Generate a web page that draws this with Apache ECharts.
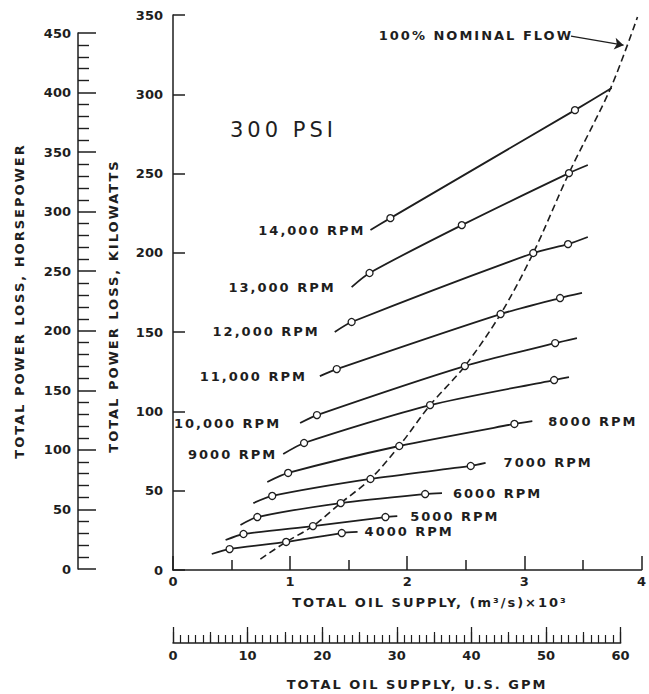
<!DOCTYPE html>
<html>
<head>
<meta charset="utf-8">
<script src="https://cdn.jsdelivr.net/npm/echarts@6/dist/echarts.min.js"></script>
<style>
html,body{margin:0;padding:0;background:#fff}
#main{width:649px;height:694px}
</style>
</head>
<body>
<div id="main"></div>
<script>
// ---------- DATA ----------
const rpmNames = ['14,000 RPM','13,000 RPM','12,000 RPM','11,000 RPM','10,000 RPM','9000 RPM',
                  '8000 RPM','7000 RPM','6000 RPM','5000 RPM','4000 RPM'];
// [oil supply (m3/s)x10^3, power loss kW]
const rpm14000 = [[1.686,214.4],[1.856,221.9],[3.432,290.0],[3.746,303.9]];
const rpm13000 = [[1.525,178.4],[1.678,187.3],[2.466,217.5],[3.381,250.3],[3.542,255.4]];
const rpm12000 = [[1.381,150.1],[1.525,156.4],[3.076,199.9],[3.373,205.5],[3.542,210.0]];
const rpm11000 = [[1.254,122.3],[1.398,126.7],[2.797,161.4],[3.305,171.5],[3.492,174.7]];
const rpm10000 = [[1.085,92.7],[1.229,97.7],[2.492,128.6],[3.263,143.1],[3.449,146.3]];
const rpm9000  = [[0.941,73.1],[1.119,80.1],[2.195,104.0],[3.254,119.8],[3.381,121.7]];
const rpm8000  = [[0.805,55.5],[0.983,61.2],[1.932,78.2],[2.915,92.1],[3.068,93.9]];
const rpm7000  = [[0.686,42.2],[0.847,46.7],[1.686,57.4],[2.542,65.6],[2.669,67.5]];
const rpm6000  = [[0.576,28.4],[0.720,33.4],[1.432,42.2],[2.153,47.9],[2.297,48.5]];
const rpm5000  = [[0.449,18.9],[0.602,22.7],[1.195,27.7],[1.814,33.4],[1.915,34.0]];
const rpm4000  = [[0.331,10.1],[0.483,13.2],[0.966,17.7],[1.441,23.3],[1.576,24.0]];
const nominalFlow = [[0.746,6.9],[0.966,17.7],[1.195,27.7],[1.432,42.2],[1.686,57.4],[1.932,78.2],
                     [2.195,104.0],[2.492,128.6],[2.797,161.4],[3.076,199.9],[3.381,250.3],
                     [3.737,303.9],[3.966,348.7]];
const arrowFrom = [3.398,336.7];
const arrowTo   = [3.847,331.0];
const kwRange  = [0, 350, 50];
const hpRange  = [0, 450, 50];
const flowRange = [0, 4, 1];
const gpmRange = [0, 60, 10];
const titleHP = 'TOTAL POWER LOSS, HORSEPOWER';
const titleKW = 'TOTAL POWER LOSS, KILOWATTS';
const titleFlow = 'TOTAL OIL SUPPLY, (m\u00b3/s)\u00d710\u00b3';
const titleGPM = 'TOTAL OIL SUPPLY, U.S. GPM';
const notePSI = '300 PSI';
const noteFlow = '100% NOMINAL FLOW';

// ---------- STYLE ----------
const curves = [rpm14000,rpm13000,rpm12000,rpm11000,rpm10000,rpm9000,rpm8000,rpm7000,rpm6000,rpm5000,rpm4000];
const labelSide = ['left','left','left','left','left','left','right','right','right','right','right'];
const labelGap = [5,16,15,13,19,6,16,18,11,13,7];
const INK = '#1e1e1e';
const FF = '"DejaVu Sans", sans-serif';
const axisLab = {color: INK, fontFamily: FF, fontWeight: 'bold', fontSize: 13};

const series = [];
series.push({
  type: 'line', xAxisIndex: 0, yAxisIndex: 0, data: nominalFlow, smooth: 0.3,
  symbol: 'none', z: 2, silent: true,
  lineStyle: {color: INK, width: 1.6, type: [7, 4]},
  markLine: {
    silent: true, symbol: ['none', 'arrow'], symbolSize: 9,
    label: {show: false},
    lineStyle: {color: INK, width: 1.3, type: 'solid'},
    data: [[{coord: arrowFrom}, {coord: arrowTo}]]
  }
});
curves.forEach((pts, i) => {
  const last = pts.length - 1;
  const labIdx = labelSide[i] === 'left' ? 0 : last;
  series.push({
    type: 'line', name: rpmNames[i], xAxisIndex: 0, yAxisIndex: 0, z: 3,
    smooth: 0.25, symbol: 'circle', symbolSize: 7, showSymbol: true, showAllSymbol: true,
    itemStyle: {color: '#fff', borderColor: INK, borderWidth: 1.3},
    lineStyle: {color: INK, width: 1.8},
    data: pts.map((p, j) => {
      const it = {value: p};
      if (j === 0 || j === last) it.symbolSize = 0;
      if (j === labIdx) {
        it.label = {show: true, position: labelSide[i], distance: labelGap[i],
          formatter: rpmNames[i], color: INK, fontFamily: FF, fontWeight: 'bold', fontSize: 13};
      }
      return it;
    })
  });
});

function gtext(x, y, text, align, font, rot) {
  return {type: 'text', x: x, y: y, rotation: rot || 0, silent: true,
    style: {text: text, fill: INK, font: font, align: align, textAlign: align,
            verticalAlign: 'middle', textVerticalAlign: 'middle'}};
}
const BOLD = 'bold 13px ' + FF;

const option = {
  animation: false,
  backgroundColor: '#fff',
  grid: [
    {left: 173, top: 15, width: 473, height: 555},
    {left: 78, top: 33, width: 20, height: 536},
    {left: 173, top: 600, width: 447.6, height: 43}
  ],
  xAxis: [
    {gridIndex: 0, type: 'value', min: flowRange[0], max: flowRange[1], interval: flowRange[2],
     axisLine: {show: true, onZero: false, lineStyle: {color: INK, width: 1.5}},
     axisTick: {show: true, inside: true, length: 14, lineStyle: {color: INK, width: 1.5}},
     minorTick: {show: true, splitNumber: 2, length: 10, lineStyle: {color: INK, width: 1.5}},
     splitLine: {show: false}, minorSplitLine: {show: false},
     axisLabel: Object.assign({margin: 5}, axisLab)},
    {gridIndex: 1, type: 'value', show: false, min: 0, max: 1},
    {gridIndex: 2, type: 'value', min: gpmRange[0], max: gpmRange[1], interval: gpmRange[2],
     axisLine: {show: true, onZero: false, lineStyle: {color: INK, width: 1.5}},
     axisTick: {show: true, inside: true, length: 16, lineStyle: {color: INK, width: 1.3}},
     minorTick: {show: true, splitNumber: 10, length: 8, lineStyle: {color: INK, width: 1.2}},
     splitLine: {show: false}, minorSplitLine: {show: false},
     axisLabel: Object.assign({margin: 6}, axisLab)},
    {gridIndex: 2, type: 'value', min: gpmRange[0], max: gpmRange[1], interval: gpmRange[2] / 2,
     position: 'bottom', axisLine: {show: false},
     axisTick: {show: true, inside: true, length: 11, lineStyle: {color: INK, width: 1.2}},
     axisLabel: {show: false}, splitLine: {show: false}}
  ],
  yAxis: [
    {gridIndex: 0, type: 'value', min: kwRange[0], max: kwRange[1], interval: kwRange[2],
     axisLine: {show: true, onZero: false, lineStyle: {color: INK, width: 1.5}},
     axisTick: {show: true, inside: true, length: 12, lineStyle: {color: INK, width: 1.5}},
     splitLine: {show: false},
     axisLabel: Object.assign({margin: 10}, axisLab)},
    {gridIndex: 1, type: 'value', min: hpRange[0], max: hpRange[1], interval: hpRange[2],
     axisLine: {show: true, onZero: false, lineStyle: {color: INK, width: 1.5}},
     axisTick: {show: true, inside: true, length: 18, lineStyle: {color: INK, width: 1.5}},
     minorTick: {show: true, splitNumber: 5, length: 11, lineStyle: {color: INK, width: 1.4}},
     splitLine: {show: false}, minorSplitLine: {show: false},
     axisLabel: Object.assign({margin: 7}, axisLab)},
    {gridIndex: 2, type: 'value', show: false, min: 0, max: 1}
  ],
  graphic: [
    gtext(19, 301, titleHP, 'center', BOLD, Math.PI / 2),
    gtext(113, 306, titleKW, 'center', BOLD, Math.PI / 2),
    gtext(230, 130, notePSI, 'left', 'normal 21px ' + FF),
    gtext(573, 35, noteFlow, 'right', BOLD),
    gtext(430, 602, titleFlow, 'center', BOLD),
    gtext(417, 684, titleGPM, 'center', BOLD)
  ],
  series: series
};

const chart = echarts.init(document.getElementById('main'), null, {renderer: 'svg'});
chart.setOption(option);

function applySpacing() {
  document.querySelectorAll('#main svg text').forEach(t => {
    const s = (t.textContent || '').trim();
    let ls = 2;
    if (/^[0-9]+$/.test(s)) ls = 0;
    else if (s === notePSI) ls = 4;
    t.style.letterSpacing = ls + 'px';
  });
}
applySpacing();
chart.on('finished', applySpacing);
</script>
</body>
</html>
